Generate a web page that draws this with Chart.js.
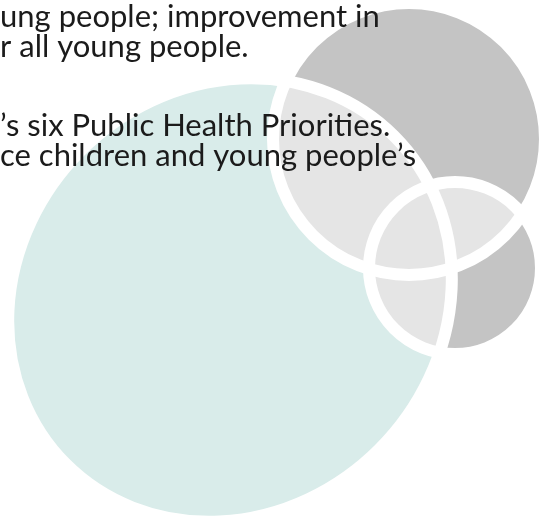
<!DOCTYPE html>
<html>
<head>
<meta charset="utf-8">
<script src="https://cdn.jsdelivr.net/npm/chart.js@4/dist/chart.umd.min.js"></script>
<style>
    html, body { margin: 0; padding: 0; background: #fff; overflow: hidden; }
    #wrap { width: 556px; height: 516px; }
</style>
</head>
<body>
<div id="wrap"><canvas id="venn" width="556" height="516"></canvas></div>
<script>
// three overlapping shapes, in picture units (x right, y down)
var circleNames = ['teal', 'upper grey', 'lower grey'];
var circleX = [230, 409, 455];
var circleY = [300, 139, 268];
var circleR = [232, 136, 86];      // long half-axis
var circleRatio = [0.91, 1, 1];    // short / long
var circleTilt = [-45, 0, 0];      // degrees
var circleColors = ['#d9ecea', '#c4c4c4', '#c4c4c4'];
var overlapColor = '#e5e5e5';

// text fragments cropped at the left edge
var textLines = [
    'ung people; improvement in',
    'r all young people.',
    '',
    '\u2019s six Public Health Priorities.',
    'ce children and young people\u2019s'
];
var textBaselines = [27, 57, 0, 136, 166];

// a length in data units, measured in pixels along one scale
function alongScale(scale, r) {
    if (!scale) return 0;
    var px = Math.abs(scale.getPixelForValue(r) - scale.getPixelForValue(0));
    return isFinite(px) ? px : 0;
}

var vennPlugin = {
    id: 'venn',
    afterDatasetsDraw: function (chart) {
        var ctx = chart.ctx;
        var els = chart.getDatasetMeta(0).data;
        var shape = function (i) {
            var a = alongScale(chart.scales.x, circleR[i]);
            ctx.beginPath();
            ctx.ellipse(els[i].x, els[i].y, a, a * circleRatio[i], circleTilt[i] * Math.PI / 180, 0, Math.PI * 2);
        };
        var i, j;
        ctx.save();
        for (i = 0; i < els.length; i++) {
            shape(i);
            ctx.fillStyle = circleColors[i];
            ctx.fill();
        }
        // overlaps in light grey
        for (i = 0; i < els.length; i++) {
            for (j = i + 1; j < els.length; j++) {
                ctx.save();
                shape(i);
                ctx.clip();
                shape(j);
                ctx.fillStyle = overlapColor;
                ctx.fill();
                ctx.restore();
            }
        }
        // white rings on every outline
        ctx.strokeStyle = '#ffffff';
        ctx.lineWidth = 12;
        for (i = 0; i < els.length; i++) {
            shape(i);
            ctx.stroke();
        }
        ctx.restore();
    },
    afterDraw: function (chart) {
        var ctx = chart.ctx;
        ctx.save();
        ctx.font = '31px Lato';
        ctx.fillStyle = '#1b1b1b';
        ctx.textBaseline = 'alphabetic';
        ctx.textAlign = 'left';
        textLines.forEach(function (t, i) {
            if (t) ctx.fillText(t, 0, textBaselines[i]);
        });
        ctx.restore();
    }
};

new Chart(document.getElementById('venn'), {
    type: 'scatter',
    data: {
        labels: circleNames,
        datasets: [{
            data: circleX.map(function (x, i) { return {x: x, y: circleY[i]}; }),
            backgroundColor: circleColors,
            pointRadius: 0,
            showLine: false
        }]
    },
    options: {
        responsive: false,
        animation: false,
        events: [],
        layout: { padding: 0, autoPadding: false },
        plugins: { legend: { display: false }, tooltip: { enabled: false } },
        scales: {
            x: { type: 'linear', min: 0, max: 556, display: false },
            y: { type: 'linear', min: 0, max: 516, reverse: true, display: false }
        }
    },
    plugins: [vennPlugin]
});
</script>
</body>
</html>
